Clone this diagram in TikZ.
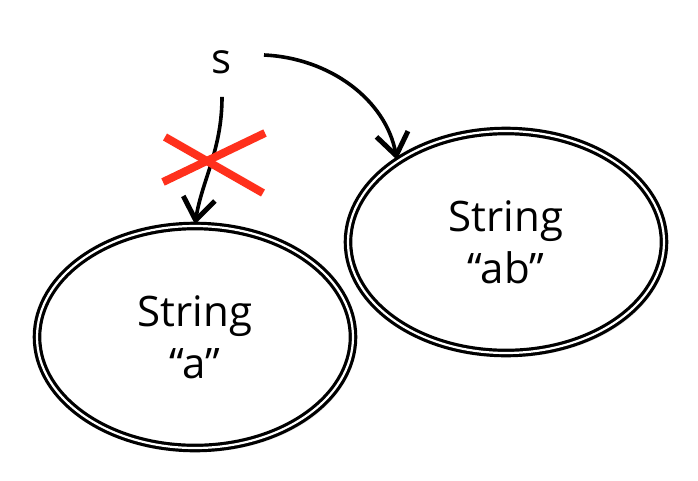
\documentclass[tikz,border=0pt]{standalone}
\usepackage{fontspec}
\setmainfont{Open Sans}
\usetikzlibrary{shapes.geometric,arrows.meta,shadows}
\definecolor{xred}{RGB}{255,48,28}
\begin{document}
\begin{tikzpicture}[x=1pt,y=-1pt,
  obj/.style={ellipse, draw=black, line width=3.2pt, double=white, double distance=2.2pt,
    fill=white, minimum width=316pt, minimum height=222pt, inner sep=0pt,
    align=center, font=\fontsize{42}{52}\selectfont,
    drop shadow={opacity=0.2, shadow xshift=3pt, shadow yshift=-4pt}},
  arr/.style={line width=3.6pt, -{Straight Barb[length=22pt,width=32pt,line width=5pt]}},
  cross/.style={line width=8pt, draw=xred}
]
\useasboundingbox (0,0) rectangle (698,480);
\node[obj] (a) at (195,337) {String\\“a”};
\node[obj] (b) at (506,242) {String\\“ab”};
\node[font=\fontsize{42}{50}\selectfont, inner sep=3pt] (s) at (222,62) {s};
\coordinate (r0) at (264,55);
\draw[arr, shorten <=20pt] (s.south) .. controls (222,150) and (202,180) .. (a.north);
\draw[arr] (r0) .. controls (330,58) and (386,100) .. (b.143);
\coordinate (x1) at (165,137);
\coordinate (x2) at (263,193);
\coordinate (x3) at (163,182);
\coordinate (x4) at (265,133);
\draw[cross] (x1) -- (x2);
\draw[cross] (x3) -- (x4);
\end{tikzpicture}
\end{document}
